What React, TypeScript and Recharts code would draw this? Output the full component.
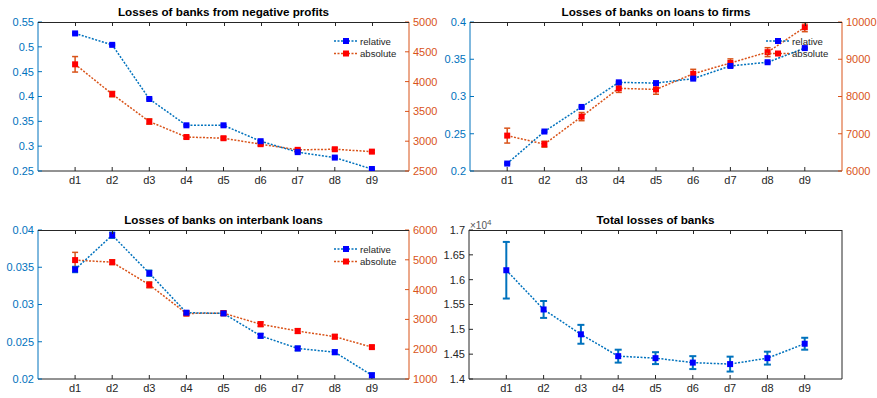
import { ComposedChart, ErrorBar, Line, XAxis, YAxis } from "recharts";

const categories = ["d1", "d2", "d3", "d4", "d5", "d6", "d7", "d8", "d9"];

// losses from negative profits
const profitsRel = [0.527, 0.504, 0.395, 0.342, 0.342, 0.31, 0.288, 0.277, 0.254];
const profitsRelErr = [0.0015, 0.0015, 0.0015, 0.0015, 0.0015, 0.0015, 0.0015, 0.0015, 0.0015];
const profitsAbs = [4290, 3790, 3330, 3070, 3050, 2950, 2855, 2865, 2825];
const profitsAbsErr = [130, 45, 45, 25, 25, 25, 25, 25, 20];

// losses on loans to firms
const firmsRel = [0.21, 0.253, 0.286, 0.319, 0.318, 0.324, 0.341, 0.346, 0.365];
const firmsRelErr = [0.001, 0.001, 0.001, 0.001, 0.001, 0.001, 0.001, 0.001, 0.001];
const firmsAbs = [6950, 6720, 7460, 8220, 8190, 8610, 8900, 9190, 9860];
const firmsAbsErr = [200, 80, 110, 110, 130, 120, 110, 120, 120];

// losses on interbank loans
const interRel = [0.0347, 0.0393, 0.0342, 0.0289, 0.0288, 0.0258, 0.0241, 0.0236, 0.0205];
const interRelErr = [0.0004, 0.0004, 0.0004, 0.0002, 0.0002, 0.0003, 0.0003, 0.0003, 0.0003];
const interAbs = [4990, 4920, 4160, 3200, 3210, 2840, 2610, 2420, 2070];
const interAbsErr = [260, 80, 100, 80, 80, 80, 80, 70, 50];

// total losses
const total = [16190, 15400, 14900, 14460, 14420, 14330, 14300, 14420, 14710];
const totalErr = [570, 170, 190, 130, 120, 130, 150, 130, 120];

const xTicks = [1, 2, 3, 4, 5, 6, 7, 8, 9];
const totalTicks = [14000, 14500, 15000, 15500, 16000, 16500, 17000];

const BLUE = "#0072BD";
const ORANGE = "#D95319";
const AXIS = "#262626";
const FONT = "'Liberation Sans', Arial, sans-serif";

const square = (fill: string) => (p: any) => {
  if (p.cx == null || p.cy == null) return <g key={p.index} />;
  return <rect key={p.index} x={p.cx - 3} y={p.cy - 3} width={6} height={6} fill={fill} />;
};

const catLabel = (v: number) => categories[v - 1] ?? "";
const blank = () => "";

// top edge of the axes box with inward ticks (x domain is 0..10)
function BoxTop({ x, y, w }: { x: number; y: number; w: number }) {
  return (
    <div style={{ position: "absolute", left: x, top: y, width: w, height: 1, background: AXIS, zIndex: 5 }}>
      {xTicks.map((t) => (
        <div
          key={t}
          style={{ position: "absolute", left: Math.round((t / 10) * w), top: 0, width: 1, height: 4, background: AXIS }}
        />
      ))}
    </div>
  );
}

function Title({ x, y, w, text }: { x: number; y: number; w: number; text: string }) {
  return (
    <div
      style={{
        position: "absolute",
        left: x,
        top: y - 7,
        width: w,
        textAlign: "center",
        fontWeight: "bold",
        fontSize: 11.7,
        lineHeight: "14px",
        color: "#000",
        whiteSpace: "nowrap",
      }}
    >
      {text}
    </div>
  );
}

function Legend2({ x, y }: { x: number; y: number }) {
  const rows = [
    { label: "relative", line: BLUE, mark: "#0000FF" },
    { label: "absolute", line: ORANGE, mark: "#FF0000" },
  ];
  return (
    <svg
      style={{ position: "absolute", left: x, top: y - 6, overflow: "visible" }}
      width={80}
      height={26}
    >
      {rows.map((r, i) => (
        <g key={r.label}>
          <line x1={0} x2={24} y1={6 + i * 12.5} y2={6 + i * 12.5} stroke={r.line} strokeWidth={1.5} strokeDasharray="2 1.5" />
          <rect x={9} y={3 + i * 12.5} width={6} height={6} fill={r.mark} />
          <text x={26} y={9.5 + i * 12.5} fontSize={9.6} fill={AXIS} fontFamily={FONT}>
            {r.label}
          </text>
        </g>
      ))}
    </svg>
  );
}

type DualProps = {
  left: number;
  top: number;
  width: number;
  height: number;
  mTop: number;
  leftW: number;
  rightW: number;
  xH: number;
  rel: number[];
  relErr: number[];
  abs: number[];
  absErr: number[];
  relDomain: [number, number];
  relTicks: number[];
  absDomain: [number, number];
  absTicks: number[];
};

function DualPanel(p: DualProps) {
  const data = categories.map((c, i) => ({
    x: i + 1,
    label: c,
    rel: p.rel[i],
    relErr: p.relErr[i],
    abs: p.abs[i],
    absErr: p.absErr[i],
  }));
  return (
    <div style={{ position: "absolute", left: p.left, top: p.top }}>
      <ComposedChart width={p.width} height={p.height} data={data} margin={{ top: p.mTop, right: 0, bottom: 0, left: 0 }}>
        <XAxis
          dataKey="x"
          type="number"
          domain={[0, 10]}
          ticks={xTicks}
          tickFormatter={catLabel}
          height={p.xH}
          stroke={AXIS}
          tickSize={-4}
          tickMargin={9}
          tick={{ fill: AXIS, fontSize: 11 }}
          allowDataOverflow
        />
        <YAxis
          yAxisId="l"
          domain={p.relDomain}
          ticks={p.relTicks}
          width={p.leftW}
          stroke={BLUE}
          tickSize={-4}
          tickMargin={8}
          tick={{ fill: BLUE, fontSize: 11 }}
          allowDataOverflow
        />
        <YAxis
          yAxisId="r"
          orientation="right"
          domain={p.absDomain}
          ticks={p.absTicks}
          width={p.rightW}
          stroke={ORANGE}
          tickSize={-4}
          tickMargin={8}
          tick={{ fill: ORANGE, fontSize: 11, textAnchor: "start" }}
          allowDataOverflow
        />
        <Line
          yAxisId="r"
          dataKey="abs"
          stroke={ORANGE}
          strokeWidth={1.5}
          strokeDasharray="2 1.5"
          dot={square("#FF0000")}
          activeDot={false}
          isAnimationActive={false}
        >
          <ErrorBar dataKey="absErr" direction="y" width={3} stroke={ORANGE} strokeWidth={1.5} />
        </Line>
        <Line
          yAxisId="l"
          dataKey="rel"
          stroke={BLUE}
          strokeWidth={1.5}
          strokeDasharray="2 1.5"
          dot={square("#0000FF")}
          activeDot={false}
          isAnimationActive={false}
        >
          <ErrorBar dataKey="relErr" direction="y" width={3} stroke={BLUE} strokeWidth={1.5} />
        </Line>
      </ComposedChart>
    </div>
  );
}

function TotalPanel() {
  const data = categories.map((c, i) => ({ x: i + 1, label: c, total: total[i], err: totalErr[i] }));
  return (
    <div style={{ position: "absolute", left: 438, top: 198 }}>
      <ComposedChart width={439} height={200} data={data} margin={{ top: 32, right: 0, bottom: 0, left: 0 }}>
        <XAxis
          dataKey="x"
          type="number"
          domain={[0, 10]}
          ticks={xTicks}
          tickFormatter={catLabel}
          height={19}
          stroke={AXIS}
          tickSize={-4}
          tickMargin={9}
          tick={{ fill: AXIS, fontSize: 11 }}
        />
        <YAxis
          domain={[14000, 17000]}
          ticks={totalTicks}
          tickFormatter={(v: number) => String(v / 10000)}
          width={31}
          stroke={AXIS}
          tickSize={-4}
          tickMargin={8}
          tick={{ fill: AXIS, fontSize: 11 }}
          allowDataOverflow
        />
        <YAxis
          yAxisId="r"
          orientation="right"
          domain={[14000, 17000]}
          ticks={totalTicks}
          tickFormatter={blank}
          width={35}
          stroke={AXIS}
          tickSize={-4}
        />
        <Line
          dataKey="total"
          stroke={BLUE}
          strokeWidth={1.5}
          strokeDasharray="2 1.5"
          dot={square("#0000FF")}
          activeDot={false}
          isAnimationActive={false}
        >
          <ErrorBar dataKey="err" direction="y" width={3.5} stroke={BLUE} strokeWidth={2} />
        </Line>
      </ComposedChart>
    </div>
  );
}

export default function App() {
  return (
    <div
      style={{
        position: "absolute",
        left: 0,
        top: 0,
        width: 877,
        height: 398,
        background: "#fff",
        fontFamily: FONT,
        overflow: "hidden",
      }}
    >
      <DualPanel
        left={0}
        top={0}
        width={438}
        height={198}
        mTop={22}
        leftW={38}
        rightW={29}
        xH={27}
        rel={profitsRel}
        relErr={profitsRelErr}
        abs={profitsAbs}
        absErr={profitsAbsErr}
        relDomain={[0.25, 0.55]}
        relTicks={[0.25, 0.3, 0.35, 0.4, 0.45, 0.5, 0.55]}
        absDomain={[2500, 5000]}
        absTicks={[2500, 3000, 3500, 4000, 4500, 5000]}
      />
      <DualPanel
        left={438}
        top={0}
        width={439}
        height={198}
        mTop={22}
        leftW={32}
        rightW={35}
        xH={27}
        rel={firmsRel}
        relErr={firmsRelErr}
        abs={firmsAbs}
        absErr={firmsAbsErr}
        relDomain={[0.2, 0.4]}
        relTicks={[0.2, 0.25, 0.3, 0.35, 0.4]}
        absDomain={[6000, 10000]}
        absTicks={[6000, 7000, 8000, 9000, 10000]}
      />
      <DualPanel
        left={0}
        top={198}
        width={438}
        height={200}
        mTop={32}
        leftW={38}
        rightW={29}
        xH={19}
        rel={interRel}
        relErr={interRelErr}
        abs={interAbs}
        absErr={interAbsErr}
        relDomain={[0.02, 0.04]}
        relTicks={[0.02, 0.025, 0.03, 0.035, 0.04]}
        absDomain={[1000, 6000]}
        absTicks={[1000, 2000, 3000, 4000, 5000, 6000]}
      />
      <TotalPanel />

      <BoxTop x={38} y={22} w={371} />
      <BoxTop x={470} y={22} w={372} />
      <BoxTop x={38} y={230} w={371} />
      <BoxTop x={469} y={230} w={373} />

      <Title x={38} y={12} w={371} text="Losses of banks from negative profits" />
      <Title x={470} y={12} w={372} text="Losses of banks on loans to firms" />
      <Title x={38} y={220} w={371} text="Losses of banks on interbank loans" />
      <Title x={469} y={220} w={373} text="Total losses of banks" />

      <Legend2 x={334} y={41} />
      <Legend2 x={766} y={41} />
      <Legend2 x={334} y={249} />

      <div
        style={{ position: "absolute", left: 470, top: 217, fontSize: 10, color: "#555", whiteSpace: "nowrap", lineHeight: "12px" }}
      >
        ×10<sup style={{ fontSize: 8, verticalAlign: "4px" }}>4</sup>
      </div>
    </div>
  );
}
